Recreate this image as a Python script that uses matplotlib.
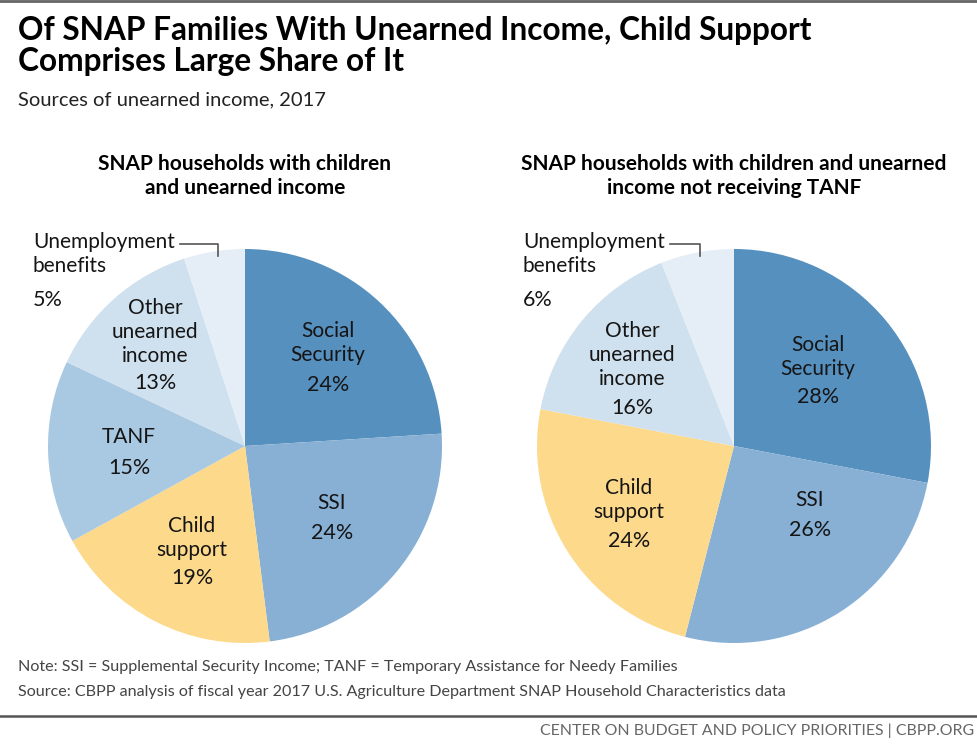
import matplotlib
matplotlib.use('Agg')
import matplotlib.pyplot as plt
from matplotlib import font_manager

#pie data, clockwise from 12 o'clock
left_labels = ['Social\nSecurity', 'SSI', 'Child\nsupport', 'TANF', 'Other\nunearned\nincome', 'Unemployment\nbenefits']
left_values = [24, 24, 19, 15, 13, 5]
right_labels = ['Social\nSecurity', 'SSI', 'Child\nsupport', 'Other\nunearned\nincome', 'Unemployment\nbenefits']
right_values = [28, 26, 24, 16, 6]

title = 'Of SNAP Families With Unearned Income, Child Support\nComprises Large Share of It'
subtitle = 'Sources of unearned income, 2017'
left_title = 'SNAP households with children\nand unearned income'
right_title = 'SNAP households with children and unearned\nincome not receiving TANF'
note = 'Note: SSI = Supplemental Security Income; TANF = Temporary Assistance for Needy Families'
source = 'Source: CBPP analysis of fiscal year 2017 U.S. Agriculture Department SNAP Household Characteristics data'
footer = 'CENTER ON BUDGET AND POLICY PRIORITIES | CBPP.ORG'

#colors per slice
left_colors = ['#5690bf', '#87b0d4', '#fdd98b', '#a9c8e1', '#cfe0ef', '#e5eef7']
right_colors = ['#5690bf', '#87b0d4', '#fdd98b', '#cfe0ef', '#e5eef7']

W, H = 977, 756
fig = plt.figure(figsize=(W / 100, H / 100), dpi=100)
ax = fig.add_axes([0, 0, 1, 1])

def Y(y):
    return H - y

FONT = 'Lato'
installed = {f.name for f in font_manager.fontManager.ttflist}
if FONT not in installed:
    FONT = 'DejaVu Sans'
TXT = '#151515'

R = 197
ax.pie(left_values, colors=left_colors, startangle=90, counterclock=False,
       center=(245, Y(446)), radius=R, frame=True,
       wedgeprops=dict(linewidth=0))
ax.pie(right_values, colors=right_colors, startangle=90, counterclock=False,
       center=(734, Y(446)), radius=R, frame=True,
       wedgeprops=dict(linewidth=0))

ax.set_xlim(0, W)
ax.set_ylim(0, H)
ax.set_aspect('auto')
ax.axis('off')

# slice labels: x, name center y, percent y
left_pos = [(328, 343, 385), (332, 503, 533), (192, 538, 578), (129, 437, 468), (155, 332, 383)]
right_pos = [(818, 357, 397), (810, 500, 530), (629, 500, 541), (632, 355, 408)]

def slice_labels(labels, values, positions):
    for lab, val, (x, yn, yp) in zip(labels, values, positions):
        ax.text(x, Y(yn), lab, ha='center', va='center', fontsize=15, family=FONT,
                linespacing=1.22, color=TXT)
        ax.text(x, Y(yp), f'{val}%', ha='center', va='center', fontsize=15.5,
                family=FONT, color=TXT)

slice_labels(left_labels[:5], left_values[:5], left_pos)
slice_labels(right_labels[:4], right_values[:4], right_pos)

# unemployment labels outside with leader
for lab, val, x0, lx0, lx1 in [(left_labels[5], left_values[5], 33, 180, 218),
                               (right_labels[4], right_values[4], 523, 670, 700)]:
    ax.text(x0, Y(254), lab, ha='left', va='center', fontsize=15, family=FONT,
            linespacing=1.3, color=TXT)
    ax.text(x0, Y(300), f'{val}%', ha='left', va='center', fontsize=15.5,
            family=FONT, color=TXT)
    ax.plot([lx0, lx1, lx1], [Y(244), Y(244), Y(256)], color='#555555', lw=1.2)

# pie titles
ax.text(245, Y(176), left_title, ha='center', va='center', fontsize=15, family=FONT,
        fontweight='bold', linespacing=1.25)
ax.text(734, Y(176), right_title, ha='center', va='center', fontsize=15, family=FONT,
        fontweight='bold', linespacing=1.25)

# header
ax.plot([0, W], [Y(1), Y(1)], color='#666666', lw=2)
ax.text(18, Y(46), title, ha='left', va='center', fontsize=22.8, family=FONT,
        fontweight='bold', linespacing=1.06)
ax.text(18, Y(100), subtitle, ha='left', va='center', fontsize=14.5, family=FONT,
        color='#222222')

# notes and footer
ax.text(18, Y(667), note, ha='left', va='center', fontsize=11.6, family=FONT, color='#444444')
ax.text(18, Y(692), source, ha='left', va='center', fontsize=11.6, family=FONT, color='#444444')
ax.plot([0, W], [Y(716), Y(716)], color='#555555', lw=1.8)
ax.text(974, Y(731), footer, ha='right', va='center', fontsize=11.4, family=FONT,
        color='#666666')

fig.savefig('out.png', dpi=100)
